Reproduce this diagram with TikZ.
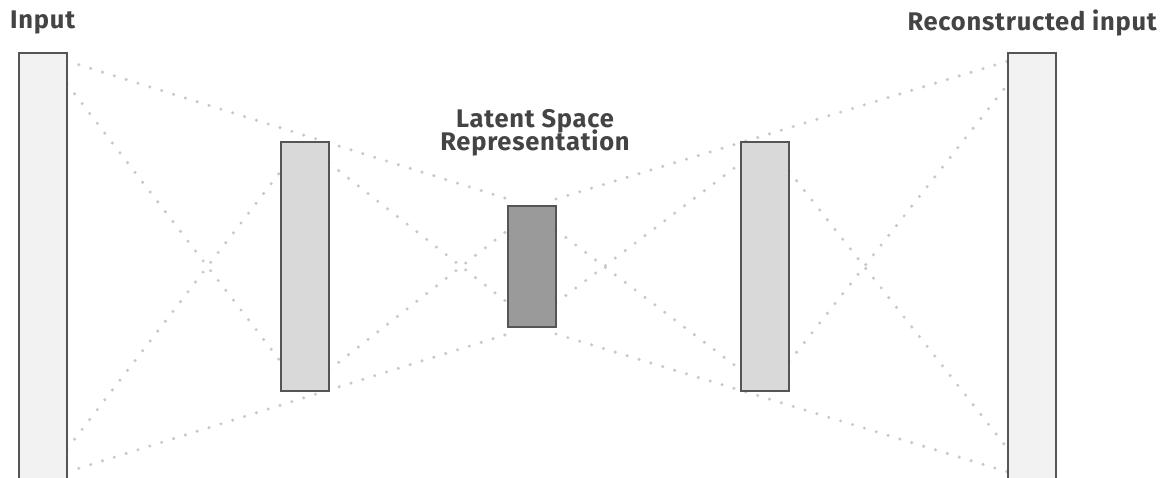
\documentclass[tikz,border=0pt]{standalone}
\usepackage{fontspec}
\setmainfont{Fira Sans}[LetterSpace=3]
\definecolor{dotgray}{HTML}{C8C8C8}
\definecolor{bordergray}{HTML}{555555}
\definecolor{labelgray}{HTML}{444444}
\definecolor{outerfill}{HTML}{F2F2F2}
\definecolor{midfill}{HTML}{D9D9D9}
\definecolor{latfill}{HTML}{9A9A9A}
\begin{document}
\begin{tikzpicture}[x=1pt,y=-1pt,
  dotline/.style={draw=dotgray, line width=3.4pt, line cap=round, dash pattern=on 0pt off 12.4pt},
  bar/.style={draw=bordergray, line width=1.6pt, rectangle, inner sep=0pt, minimum width=48pt},
  lbl/.style={font=\fontsize{25.5}{23}\selectfont\bfseries, text=labelgray, inner sep=0pt}]
\useasboundingbox (0,0) rectangle (1171,478);
\path (43,266.5) coordinate (inC) (305,266.5) coordinate (e1C) (532,266.5) coordinate (latC)
      (765,266.5) coordinate (d1C) (1032,266.5) coordinate (outC);
\coordinate (inE) at (67,0);
\coordinate (e1W) at (281,0);
\coordinate (e1E) at (329,0);
\coordinate (latW) at (508,0);
\coordinate (latE) at (556,0);
\coordinate (d1W) at (741,0);
\coordinate (d1E) at (789,0);
\coordinate (outW) at (1008,0);
% left dotted lines
\draw[dotline] (inE |- 0,61) -- (latW |- 0,199);
\draw[dotline] (inE |- 0,472) -- (latW |- 0,334);
\draw[dotline] (inE |- 0,84) -- (e1W |- 0,362);
\draw[dotline] (inE |- 0,449) -- (e1W |- 0,171);
\draw[dotline] (e1E |- 0,163) -- (latW |- 0,303);
\draw[dotline] (e1E |- 0,370) -- (latW |- 0,230);
% right dotted lines
\draw[dotline] (latE |- 0,199) -- (outW |- 0,61);
\draw[dotline] (latE |- 0,334) -- (outW |- 0,472);
\draw[dotline] (latE |- 0,303) -- (d1W |- 0,163);
\draw[dotline] (latE |- 0,230) -- (d1W |- 0,370);
\draw[dotline] (d1E |- 0,171) -- (outW |- 0,449);
\draw[dotline] (d1E |- 0,362) -- (outW |- 0,84);
% bars
\node[bar, fill=outerfill, minimum height=427pt] (in) at (inC) {};
\node[bar, fill=midfill, minimum height=249pt] (enc) at (e1C) {};
\node[bar, fill=latfill, minimum height=121pt] (lat) at (latC) {};
\node[bar, fill=midfill, minimum height=249pt] (dec) at (d1C) {};
\node[bar, fill=outerfill, minimum height=427pt] (out) at (outC) {};
% labels
\node[lbl, anchor=base west] (tin) at (10,29) {Input};
\node[lbl, anchor=base east] (tout) at (1157,31) {Reconstructed input};
\node[lbl, anchor=base] (tlat1) at (535,128) {Latent Space};
\node[lbl, anchor=base] (tlat2) at (535,151) {Representation};
\end{tikzpicture}
\end{document}
